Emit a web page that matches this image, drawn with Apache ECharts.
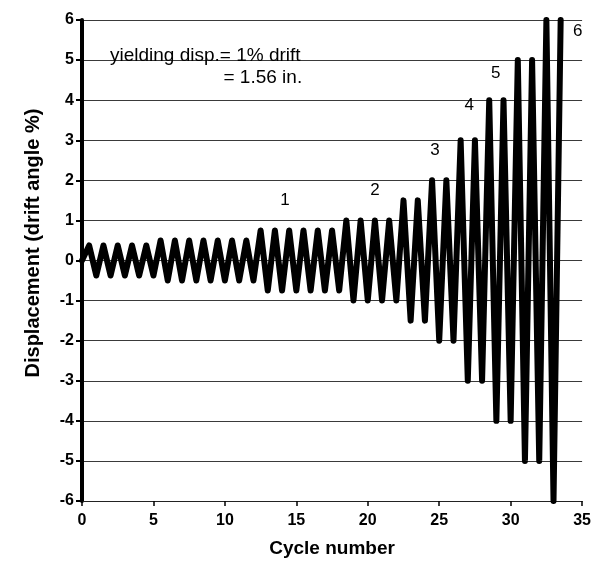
<!DOCTYPE html>
<html>
<head>
<meta charset="utf-8">
<title>Cyclic displacement history</title>
<script src="https://cdn.jsdelivr.net/npm/echarts@6/dist/echarts.min.js"></script>
<style>
  html, body { margin: 0; padding: 0; background: #fff; }
  #chart { width: 594px; height: 563px; }
</style>
</head>
<body>
<div id="chart"></div>
<script>
// Loading history: cycle number at each reversal point and the drift reached there
const peakCycle = [
  0, 0.5, 1, 1.5, 2, 2.5, 3, 3.5, 4, 4.5, 5,
  5.5, 6, 6.5, 7, 7.5, 8, 8.5, 9, 9.5, 10, 10.5, 11, 11.5, 12,
  12.5, 13, 13.5, 14, 14.5, 15, 15.5, 16, 16.5, 17, 17.5, 18,
  18.5, 19, 19.5, 20, 20.5, 21, 21.5, 22,
  22.5, 23, 23.5, 24,
  24.5, 25, 25.5, 26,
  26.5, 27, 27.5, 28,
  28.5, 29, 29.5, 30,
  30.5, 31, 31.5, 32,
  32.5, 33, 33.5
];
const peakDrift = [
  0, 0.375, -0.375, 0.375, -0.375, 0.375, -0.375, 0.375, -0.375, 0.375, -0.375,
  0.5, -0.5, 0.5, -0.5, 0.5, -0.5, 0.5, -0.5, 0.5, -0.5, 0.5, -0.5, 0.5, -0.5,
  0.75, -0.75, 0.75, -0.75, 0.75, -0.75, 0.75, -0.75, 0.75, -0.75, 0.75, -0.75,
  1, -1, 1, -1, 1, -1, 1, -1,
  1.5, -1.5, 1.5, -1.5,
  2, -2, 2, -2,
  3, -3, 3, -3,
  4, -4, 4, -4,
  5, -5, 5, -5,
  6, -6, 6
];

// Drift-level step labels and their anchor positions (cycle, drift)
const stepLabels = ['1', '2', '3', '4', '5', '6'];
const stepAt = [[14.2, 1.5], [20.5, 1.76], [24.7, 2.76], [27.1, 3.88], [28.95, 4.68], [34.7, 5.73]];

// Note on the yield displacement
const noteLines = ['yielding disp.= 1% drift', '= 1.56 in.'];
const noteAt = [[1.96, 5.12], [9.9, 4.55]];

const xTicks = { min: 0, max: 35, step: 5 };
const yTicks = { min: -6, max: 6, step: 1 };

const FONT = '"Liberation Sans", Arial, Helvetica, sans-serif';

const chart = echarts.init(document.getElementById('chart'), null, { renderer: 'canvas' });

const points = peakCycle.map((c, i) => [c, peakDrift[i]]);

chart.setOption({
  animation: false,
  backgroundColor: '#fff',
  grid: { left: 82, right: 11, top: 20, bottom: 62, containLabel: false },
  xAxis: {
    type: 'value',
    min: xTicks.min, max: xTicks.max, interval: xTicks.step,
    name: 'Cycle number',
    nameLocation: 'middle',
    nameGap: 38,
    nameTextStyle: { fontFamily: FONT, fontWeight: 'bold', fontSize: 19, color: '#000' },
    axisLine: { show: true, onZero: false, lineStyle: { color: '#222', width: 1.2 } },
    axisTick: { show: true, length: 5, lineStyle: { color: '#000', width: 1.5 } },
    axisLabel: { fontFamily: FONT, fontWeight: 'bold', fontSize: 16, color: '#000', margin: 12 },
    splitLine: { show: false }
  },
  yAxis: {
    type: 'value',
    min: yTicks.min, max: yTicks.max, interval: yTicks.step,
    axisLine: { show: true, onZero: false, lineStyle: { color: '#000', width: 4 } },
    axisTick: { show: true, length: 6, lineStyle: { color: '#000', width: 2 } },
    axisLabel: { fontFamily: FONT, fontWeight: 'bold', fontSize: 16, color: '#000', margin: 8 },
    splitLine: { show: true, lineStyle: { color: '#3a3a3a', width: 1 } }
  },
  series: [{
    type: 'line',
    data: points,
    symbol: 'none',
    clip: true,
    lineStyle: { color: '#000', width: 6, join: 'round', cap: 'round' },
    z: 3
  }]
});

// Place annotation texts in data coordinates
function px(pt) { return chart.convertToPixel({ gridIndex: 0 }, pt); }

const graphics = [];
stepLabels.forEach((t, i) => {
  const p = px(stepAt[i]);
  graphics.push({
    type: 'text', x: p[0], y: p[1], z: 10,
    style: { text: t, fontFamily: FONT, fontSize: 17, fill: '#000', textAlign: 'center', textVerticalAlign: 'middle' }
  });
});
noteLines.forEach((t, i) => {
  const p = px(noteAt[i]);
  graphics.push({
    type: 'text', x: p[0], y: p[1], z: 10,
    style: { text: t, fontFamily: FONT, fontSize: 19, fill: '#000', textAlign: 'left', textVerticalAlign: 'middle' }
  });
});
// Rotated y-axis title
graphics.push({
  type: 'text', x: 33, y: 243, rotation: Math.PI / 2, z: 10,
  style: {
    text: 'Displacement (drift angle %)', fontFamily: FONT, fontWeight: 'bold', fontSize: 20,
    fill: '#000', textAlign: 'center', textVerticalAlign: 'middle'
  }
});

chart.setOption({ graphic: graphics });
</script>
</body>
</html>
